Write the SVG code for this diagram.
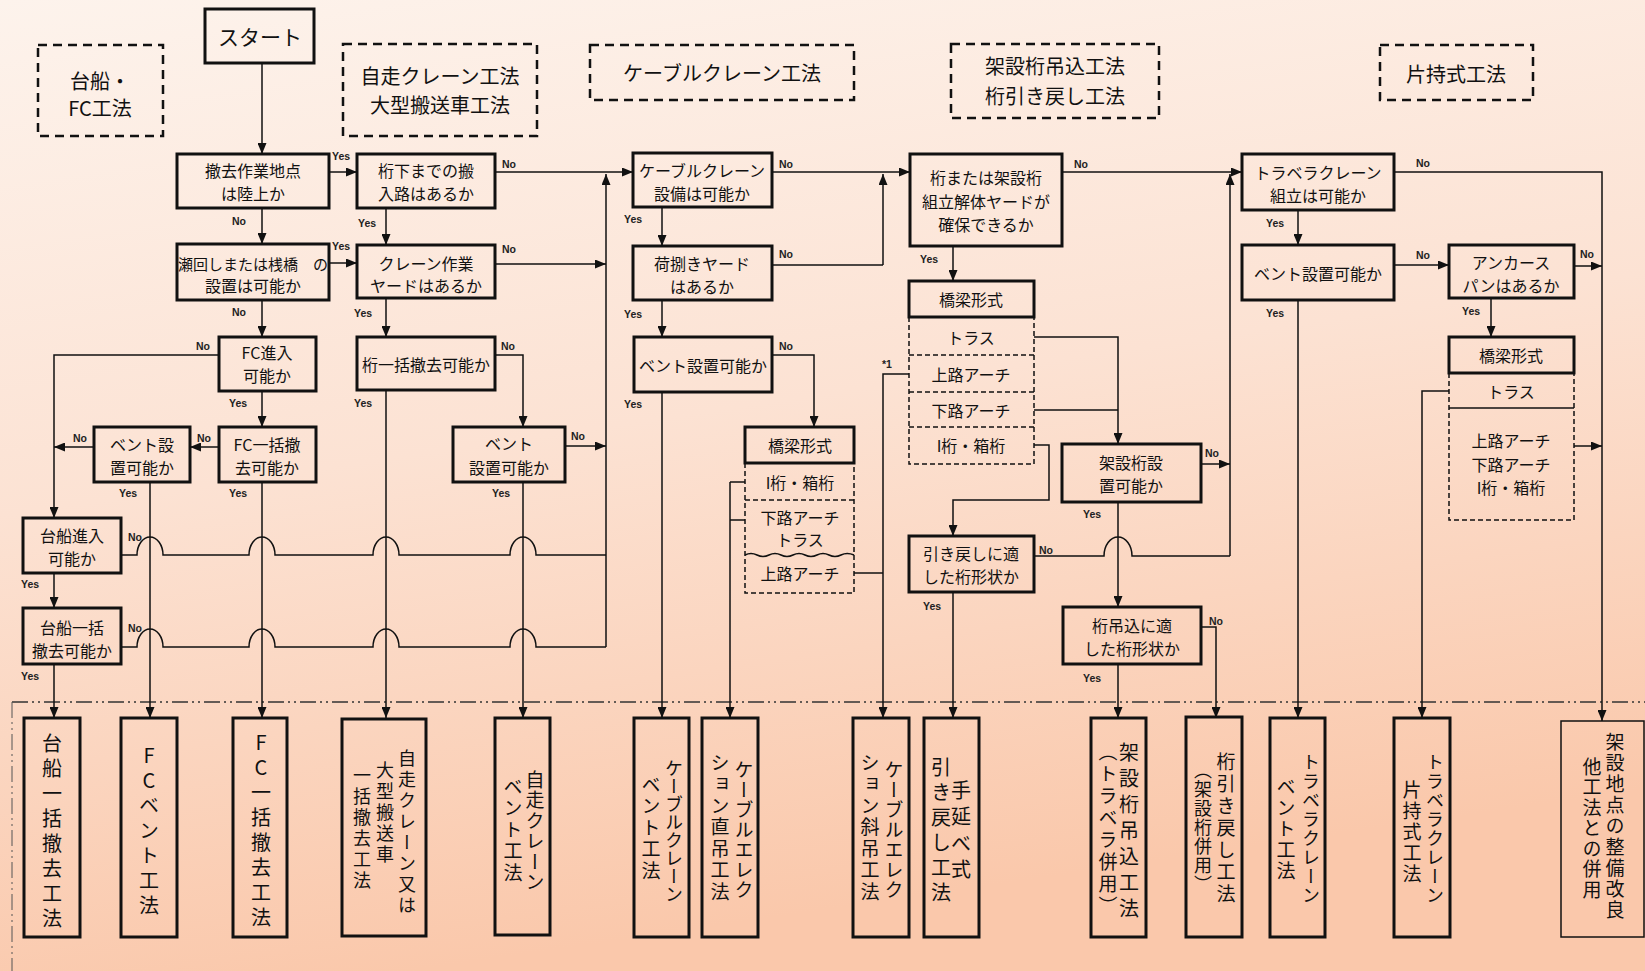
<svg xmlns="http://www.w3.org/2000/svg" width="1645" height="971" viewBox="0 0 1645 971">
<defs>
<linearGradient id="bg" x1="0" y1="0" x2="0.25" y2="1">
<stop offset="0" stop-color="#fdf3ec"/>
<stop offset="0.5" stop-color="#fce2d3"/>
<stop offset="1" stop-color="#fac8ab"/>
</linearGradient>
<marker id="ah" markerWidth="11" markerHeight="9" refX="11" refY="4.5" orient="auto" markerUnits="userSpaceOnUse"><path d="M0,0 L11,4.5 L0,9 z" fill="#111"/></marker>
<style>
.box{fill:none;stroke:#111;stroke-width:3}
.thin{fill:none;stroke:#111;stroke-width:1.5}
.dash{fill:none;stroke:#111;stroke-width:2.5;stroke-dasharray:9 6}
.rowd{fill:none;stroke:#111;stroke-width:1.5;stroke-dasharray:5 3}
.ln{fill:none;stroke:#111;stroke-width:1.5}
.arr{marker-end:url(#ah)}
.t{font-family:"Noto Sans CJK JP","Noto Sans CJK SC",sans-serif;font-size:16px;text-anchor:middle;dominant-baseline:central;fill:#111}
.h{font-size:20px}
.yn{font-family:"Liberation Sans",Arial,sans-serif;font-size:10.5px;font-weight:bold;fill:#222}
.v{font-family:"Noto Sans CJK JP","Noto Sans CJK SC",sans-serif;font-size:19px;writing-mode:vertical-rl;text-orientation:upright;fill:#111}
</style>
</defs>
<rect x="0" y="0" width="1645" height="971" fill="url(#bg)"/>

<!-- header dashed boxes -->
<g id="hdr_daisen">
<rect class="dash" x="38" y="45" width="125" height="91"/>
<text class="t h" x="100" y="80">台船・</text>
<text class="t h" x="100" y="107">FC工法</text>
</g>
<g id="hdr_jisou">
<rect class="dash" x="343" y="44" width="194" height="92"/>
<text class="t h" x="440" y="75">自走クレーン工法</text>
<text class="t h" x="440" y="104">大型搬送車工法</text>
</g>
<g id="hdr_cable">
<rect class="dash" x="590" y="45" width="264" height="55"/>
<text class="t h" x="722" y="72">ケーブルクレーン工法</text>
</g>
<g id="hdr_kasetsu">
<rect class="dash" x="951" y="44" width="208" height="74"/>
<text class="t h" x="1055" y="65">架設桁吊込工法</text>
<text class="t h" x="1055" y="95">桁引き戻し工法</text>
</g>
<g id="hdr_katamochi">
<rect class="dash" x="1380" y="45" width="153" height="55"/>
<text class="t h" x="1456" y="73">片持式工法</text>
</g>

<!-- decision nodes -->
<g id="n_start"><rect class="box" x="205" y="9" width="109" height="54"/><text class="t" style="font-size:21px" x="260" y="36">スタート</text></g>
<g id="n_land"><rect class="box" x="177" y="154" width="152" height="54"/><text class="t" x="253" y="170">撤去作業地点</text><text class="t" x="253" y="193">は陸上か</text></g>
<g id="n_route"><rect class="box" x="357" y="154" width="138" height="54"/><text class="t" x="426" y="170">桁下までの搬</text><text class="t" x="426" y="193">入路はあるか</text></g>
<g id="n_seto"><rect class="box" x="177" y="244" width="152" height="56"/><text class="t" style="font-size:15px" x="253" y="263">瀬回しまたは桟橋　の</text><text class="t" x="253" y="285">設置は可能か</text></g>
<g id="n_craneyard"><rect class="box" x="357" y="245" width="138" height="53"/><text class="t" x="426" y="263">クレーン作業</text><text class="t" x="426" y="285">ヤードはあるか</text></g>
<g id="n_fcentry"><rect class="box" x="219" y="337" width="97" height="54"/><text class="t" x="267" y="352">FC進入</text><text class="t" x="267" y="375">可能か</text></g>
<g id="n_girderbulk"><rect class="box" x="357" y="337" width="138" height="53"/><text class="t" x="426" y="364">桁一括撤去可能か</text></g>
<g id="n_fcbulk"><rect class="box" x="219" y="427" width="97" height="55"/><text class="t" x="267" y="444">FC一括撤</text><text class="t" x="267" y="467">去可能か</text></g>
<g id="n_bentleft"><rect class="box" x="94" y="427" width="96" height="55"/><text class="t" x="142" y="444">ベント設</text><text class="t" x="142" y="467">置可能か</text></g>
<g id="n_bentmid"><rect class="box" x="453" y="427" width="112" height="55"/><text class="t" x="509" y="443">ベント</text><text class="t" x="509" y="467">設置可能か</text></g>
<g id="n_bargeentry"><rect class="box" x="23" y="518" width="98" height="55"/><text class="t" x="72" y="535">台船進入</text><text class="t" x="72" y="558">可能か</text></g>
<g id="n_bargebulk"><rect class="box" x="23" y="608" width="98" height="56"/><text class="t" x="72" y="627">台船一括</text><text class="t" x="72" y="650">撤去可能か</text></g>
<g id="n_cable"><rect class="box" x="633" y="153" width="139" height="54"/><text class="t" x="702" y="170">ケーブルクレーン</text><text class="t" x="702" y="193">設備は可能か</text></g>
<g id="n_yard"><rect class="box" x="633" y="246" width="139" height="54"/><text class="t" x="702" y="263">荷捌きヤード</text><text class="t" x="702" y="286">はあるか</text></g>
<g id="n_cablebent"><rect class="box" x="634" y="337" width="138" height="55"/><text class="t" x="703" y="365">ベント設置可能か</text></g>
<g id="n_bridgeA">
<rect class="box" x="745" y="427" width="109" height="36"/><text class="t" x="800" y="445">橋梁形式</text>
<path class="rowd" d="M745,463 V593 H854 V463 M745,500 H854"/>
<path class="thin" d="M745,555 q6,-3 12,0 t12,0 t12,0 t12,0 t12,0 t12,0 t12,0 t12,0 t13,0"/>
<text class="t" x="800" y="482">I桁・箱桁</text>
<text class="t" x="800" y="517">下路アーチ</text>
<text class="t" x="800" y="539">トラス</text>
<text class="t" x="800" y="573">上路アーチ</text>
</g>
<g id="n_yard2"><rect class="box" x="910" y="154" width="152" height="92"/><text class="t" x="986" y="177">桁または架設桁</text><text class="t" x="986" y="201">組立解体ヤードが</text><text class="t" x="986" y="224">確保できるか</text></g>
<g id="n_bridgeB">
<rect class="box" x="909" y="281" width="125" height="36"/><text class="t" x="971" y="299">橋梁形式</text>
<path class="rowd" d="M909,317 V464 H1034 V317 M909,355 H1034 M909,392 H1034 M909,427 H1034"/>
<text class="t" x="971" y="337">トラス</text>
<text class="t" x="971" y="374">上路アーチ</text>
<text class="t" x="971" y="410">下路アーチ</text>
<text class="t" x="971" y="445">I桁・箱桁</text>
</g>
<g id="n_erect"><rect class="box" x="1062" y="444" width="139" height="58"/><text class="t" x="1131" y="462">架設桁設</text><text class="t" x="1131" y="485">置可能か</text></g>
<g id="n_pullback"><rect class="box" x="909" y="536" width="125" height="56"/><text class="t" x="971" y="553">引き戻しに適</text><text class="t" x="971" y="576">した桁形状か</text></g>
<g id="n_lift"><rect class="box" x="1063" y="607" width="138" height="57"/><text class="t" x="1132" y="625">桁吊込に適</text><text class="t" x="1132" y="648">した桁形状か</text></g>
<g id="n_traveler"><rect class="box" x="1242" y="154" width="152" height="56"/><text class="t" x="1318" y="172">トラベラクレーン</text><text class="t" x="1318" y="195">組立は可能か</text></g>
<g id="n_travbent"><rect class="box" x="1242" y="245" width="152" height="55"/><text class="t" x="1318" y="273">ベント設置可能か</text></g>
<g id="n_anchor"><rect class="box" x="1449" y="245" width="125" height="53"/><text class="t" x="1511" y="262">アンカース</text><text class="t" x="1511" y="285">パンはあるか</text></g>
<g id="n_bridgeC">
<rect class="box" x="1449" y="337" width="125" height="36"/><text class="t" x="1511" y="355">橋梁形式</text>
<path class="rowd" d="M1449,373 V520 H1574 V373"/>
<path class="thin" d="M1449,408 H1574"/>
<text class="t" x="1511" y="391">トラス</text>
<text class="t" x="1511" y="440">上路アーチ</text>
<text class="t" x="1511" y="464">下路アーチ</text>
<text class="t" x="1511" y="487">I桁・箱桁</text>
</g>

<!-- result boxes -->
<g id="r1"><rect class="box" x="24" y="718" width="56" height="219"/><text class="v" style="font-size:20px;letter-spacing:5px" x="52" y="733">台船一括撤去工法</text></g>
<g id="r2"><rect class="box" x="121" y="718" width="56" height="219"/><text class="v" style="font-size:20px;letter-spacing:5px" x="149" y="745">FCベント工法</text></g>
<g id="r3"><rect class="box" x="233" y="718" width="54" height="219"/><text class="v" style="font-size:20px;letter-spacing:5px" x="261" y="732">FC一括撤去工法</text></g>
<g id="r4"><rect class="box" x="342" y="719" width="84" height="217"/>
<text class="v" style="font-size:18px;letter-spacing:3px" x="407" y="749">自走クレーン又は</text>
<text class="v" style="font-size:18px;letter-spacing:3px" x="385" y="761">大型搬送車</text>
<text class="v" style="font-size:18px;letter-spacing:3px" x="362" y="766">一括撤去工法</text></g>
<g id="r5"><rect class="box" x="495" y="718" width="55" height="217"/>
<text class="v" style="letter-spacing:1.5px" x="535" y="770">自走クレーン</text>
<text class="v" style="letter-spacing:2.5px" x="513" y="777">ベント工法</text></g>
<g id="r6"><rect class="box" x="634" y="718" width="55" height="219"/>
<text class="v" style="font-size:18px" x="674" y="759">ケーブルクレーン</text>
<text class="v" style="letter-spacing:2.5px" x="651" y="775">ベント工法</text></g>
<g id="r7"><rect class="box" x="702" y="718" width="56" height="219"/>
<text class="v" style="letter-spacing:1px" x="744" y="760">ケーブルエレク</text>
<text class="v" style="letter-spacing:2.5px" x="720" y="753">ション直吊工法</text></g>
<g id="r8"><rect class="box" x="853" y="718" width="56" height="219"/>
<text class="v" style="letter-spacing:1px" x="894" y="760">ケーブルエレク</text>
<text class="v" style="letter-spacing:2.5px" x="870" y="753">ション斜吊工法</text></g>
<g id="r9"><rect class="box" x="924" y="718" width="55" height="219"/>
<text class="v" style="font-size:20px;letter-spacing:6.5px" x="961" y="780">手延べ式</text>
<text class="v" style="font-size:20px;letter-spacing:5px" x="941" y="757">引き戻し工法</text></g>
<g id="r10"><rect class="box" x="1091" y="718" width="55" height="219"/>
<text class="v" style="font-size:20px;letter-spacing:6px" x="1129" y="742">架設桁吊込工法</text>
<text class="v" style="letter-spacing:3px" x="1108" y="742">（トラベラ併用）</text></g>
<g id="r11"><rect class="box" x="1186" y="717" width="56" height="220"/>
<text class="v" style="letter-spacing:3px" x="1226" y="752">桁引き戻し工法</text>
<text class="v" style="font-size:18px;letter-spacing:1px" x="1203" y="761">（架設桁併用）</text></g>
<g id="r12"><rect class="box" x="1270" y="718" width="55" height="219"/>
<text class="v" style="font-size:18px;letter-spacing:1px" x="1311" y="753">トラベラクレーン</text>
<text class="v" style="letter-spacing:2px" x="1286" y="777">ベント工法</text></g>
<g id="r13"><rect class="box" x="1394" y="718" width="56" height="219"/>
<text class="v" style="font-size:18px;letter-spacing:1px" x="1435" y="753">トラベラクレーン</text>
<text class="v" style="letter-spacing:2px" x="1412" y="780">片持式工法</text></g>
<g id="r14"><rect class="thin" x="1561" y="721" width="83" height="216"/>
<text class="v" style="letter-spacing:2px" x="1615" y="732">架設地点の整備改良</text>
<text class="v" style="letter-spacing:1.5px" x="1592" y="757">他工法との併用</text></g>

<!-- separator dash-dot -->
<path d="M12,702 H1645" fill="none" stroke="#333" stroke-width="1.5" stroke-dasharray="16 4 2 4 2 4"/>
<path d="M12,702 V971" fill="none" stroke="#555" stroke-width="1" stroke-dasharray="16 4 2 4 2 4"/>

<!-- connectors -->
<g id="connectors">
<path class="ln arr" d="M262,63 V154"/>
<path class="ln arr" d="M329,172 H357"/>
<path class="ln arr" d="M262,208 V244"/>
<path class="ln arr" d="M329,263 H357"/>
<path class="ln arr" d="M386,208 V245"/>
<path class="ln arr" d="M495,172 H633"/>
<path class="ln arr" d="M495,264 H606"/>
<path class="ln arr" d="M262,300 V337"/>
<path class="ln arr" d="M386,298 V337"/>
<path class="ln arr" d="M219,355 H54 V518"/>
<path class="ln arr" d="M495,355 H523 V427"/>
<path class="ln arr" d="M262,391 V427"/>
<path class="ln arr" d="M219,447 H190"/>
<path class="ln arr" d="M94,447 H54"/>
<path class="ln arr" d="M565,446 H606"/>
<path class="ln arr" d="M54,573 V608"/>
<path class="ln" d="M121,555 H137 a13,18 0 0 1 26,0 H249 a13,18 0 0 1 26,0 H373 a13,18 0 0 1 26,0 H510 a13,18 0 0 1 26,0 H606"/>
<path class="ln" d="M121,647 H137 a13,18 0 0 1 26,0 H249 a13,18 0 0 1 26,0 H373 a13,18 0 0 1 26,0 H510 a13,18 0 0 1 26,0 H606"/>
<path class="ln arr" d="M606,647 V174"/>
<path class="ln arr" d="M54,664 V718"/>
<path class="ln arr" d="M150,482 V718"/>
<path class="ln arr" d="M262,482 V718"/>
<path class="ln arr" d="M386,390 V718"/>
<path class="ln arr" d="M523,482 V718"/>
<path class="ln arr" d="M662,207 V246"/>
<path class="ln arr" d="M772,172 H910"/>
<path class="ln" d="M772,265 H883"/>
<path class="ln arr" d="M883,265 V174"/>
<path class="ln arr" d="M662,300 V337"/>
<path class="ln arr" d="M772,355 H814 V427"/>
<path class="ln arr" d="M662,392 V718"/>
<path class="ln" d="M745,482 H730 M745,520 H730"/>
<path class="ln arr" d="M730,482 V718"/>
<path class="ln" d="M854,573 H883"/>
<path class="ln arr" d="M909,374 H883 V718"/>
<path class="ln arr" d="M953,246 V281"/>
<path class="ln arr" d="M1062,172 H1242"/>
<path class="ln arr" d="M1230,556 V174"/>
<path class="ln arr" d="M1034,337 H1118 V444"/>
<path class="ln" d="M1034,410 H1118"/>
<path class="ln arr" d="M1034,445 H1049 V500 H953 V536"/>
<path class="ln arr" d="M1201,464 H1230"/>
<path class="ln" d="M1034,556 H1104 a14,19 0 0 1 28,0 H1230"/>
<path class="ln arr" d="M1118,502 V607"/>
<path class="ln arr" d="M953,592 V718"/>
<path class="ln arr" d="M1118,664 V718"/>
<path class="ln arr" d="M1201,627 H1216 V718"/>
<path class="ln arr" d="M1298,210 V245"/>
<path class="ln arr" d="M1394,172 H1602 V721"/>
<path class="ln arr" d="M1394,265 H1449"/>
<path class="ln arr" d="M1574,266 H1602"/>
<path class="ln arr" d="M1298,300 V718"/>
<path class="ln arr" d="M1491,298 V337"/>
<path class="ln arr" d="M1449,391 H1422 V718"/>
<path class="ln arr" d="M1574,446 H1602"/>
</g>

<!-- Yes / No labels -->
<g id="labels">
<text class="yn" x="332" y="160">Yes</text>
<text class="yn" x="502" y="168">No</text>
<text class="yn" x="232" y="225">No</text>
<text class="yn" x="332" y="250">Yes</text>
<text class="yn" x="358" y="227">Yes</text>
<text class="yn" x="502" y="253">No</text>
<text class="yn" x="232" y="316">No</text>
<text class="yn" x="354" y="317">Yes</text>
<text class="yn" x="196" y="350">No</text>
<text class="yn" x="501" y="350">No</text>
<text class="yn" x="229" y="407">Yes</text>
<text class="yn" x="354" y="407">Yes</text>
<text class="yn" x="197" y="442">No</text>
<text class="yn" x="73" y="442">No</text>
<text class="yn" x="119" y="497">Yes</text>
<text class="yn" x="229" y="497">Yes</text>
<text class="yn" x="492" y="497">Yes</text>
<text class="yn" x="571" y="440">No</text>
<text class="yn" x="128" y="541">No</text>
<text class="yn" x="21" y="588">Yes</text>
<text class="yn" x="128" y="632">No</text>
<text class="yn" x="21" y="680">Yes</text>
<text class="yn" x="779" y="168">No</text>
<text class="yn" x="624" y="223">Yes</text>
<text class="yn" x="779" y="258">No</text>
<text class="yn" x="624" y="318">Yes</text>
<text class="yn" x="779" y="350">No</text>
<text class="yn" x="624" y="408">Yes</text>
<text class="yn" x="1074" y="168">No</text>
<text class="yn" x="920" y="263">Yes</text>
<text class="yn" x="882" y="368">*1</text>
<text class="yn" x="1205" y="457">No</text>
<text class="yn" x="1083" y="518">Yes</text>
<text class="yn" x="1039" y="554">No</text>
<text class="yn" x="923" y="610">Yes</text>
<text class="yn" x="1209" y="625">No</text>
<text class="yn" x="1083" y="682">Yes</text>
<text class="yn" x="1416" y="167">No</text>
<text class="yn" x="1266" y="227">Yes</text>
<text class="yn" x="1416" y="259">No</text>
<text class="yn" x="1580" y="258">No</text>
<text class="yn" x="1266" y="317">Yes</text>
<text class="yn" x="1462" y="315">Yes</text>
</g>
</svg>
